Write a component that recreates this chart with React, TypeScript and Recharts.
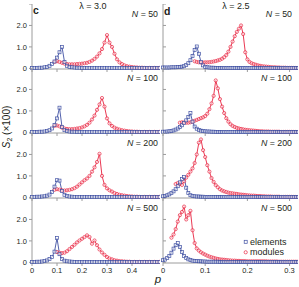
import React from 'react';
import { LineChart, Line, XAxis, YAxis } from 'recharts';

const FONT = '"Liberation Sans", Arial, Helvetica, sans-serif';
const BLUE = '#3f50a3';
const RED = '#e8233f';
const AXIS = '#9c9c9c';
const TEXT = '#231f20';

// p grids
const pLeft = [0, 0.01, 0.02, 0.03, 0.04, 0.05, 0.06, 0.07, 0.08, 0.09, 0.1, 0.11, 0.12, 0.13, 0.14, 0.15, 0.16, 0.17, 0.18, 0.19, 0.2, 0.21, 0.22, 0.23, 0.24, 0.25, 0.26, 0.27, 0.28, 0.29, 0.3, 0.31, 0.32, 0.33, 0.34, 0.35, 0.36, 0.37, 0.38, 0.39, 0.4, 0.41, 0.42, 0.43, 0.44, 0.45, 0.46, 0.47, 0.48, 0.49, 0.5, 0.51];
const pRight = [0, 0.005, 0.01, 0.015, 0.02, 0.025, 0.03, 0.035, 0.04, 0.045, 0.05, 0.055, 0.06, 0.065, 0.07, 0.075, 0.08, 0.085, 0.09, 0.095, 0.1, 0.105, 0.11, 0.115, 0.12, 0.125, 0.13, 0.135, 0.14, 0.145, 0.15, 0.155, 0.16, 0.165, 0.17, 0.175, 0.18, 0.185, 0.19, 0.195, 0.2, 0.205, 0.21, 0.215, 0.22, 0.225, 0.23, 0.235, 0.24, 0.245, 0.25, 0.255, 0.26, 0.265, 0.27, 0.275, 0.28, 0.285, 0.29, 0.295, 0.3, 0.305, 0.31, 0.315, 0.32];

const ticksLeftX = [0, 0.1, 0.2, 0.3, 0.4];
const ticksRightX = [0, 0.1, 0.2, 0.3];
const ticksY = [0, 1, 2, 3];
const rowLabels = ['N = 50', 'N = 100', 'N = 200', 'N = 500'];

// lambda = 3.0 (panel c)
const elemC50 = [0.02, 0.02, 0.02, 0.03, 0.03, 0.05, 0.07, 0.12, 0.2, 0.32, 0.5, 0.75, 1.0, 0.3, 0.12, 0.07, 0.05, 0.04, 0.03, 0.03, 0.02, 0.02, 0.02, 0.02, 0.02, 0.02, 0.02, 0.02, 0.02, 0.02, 0.02, 0.02, 0.02, 0.02, 0.02, 0.02, 0.02, 0.02, 0.02, 0.02, 0.02, 0.02, 0.02, 0.02, 0.02, 0.02, 0.02, 0.02, 0.02, 0.02, 0.02, 0.02];
const modC50 = [null, null, null, null, null, null, null, null, null, 0.3, 0.33, 0.3, 0.26, 0.22, 0.2, 0.19, 0.19, 0.19, 0.2, 0.21, 0.22, 0.24, 0.26, 0.3, 0.36, 0.44, 0.55, 0.7, 0.9, 1.2, 1.55, 1.2, 1.0, 0.68, 0.42, 0.28, 0.2, 0.14, 0.1, 0.08, 0.06, 0.05, 0.04, 0.03, 0.03, 0.02, 0.02, 0.02, 0.02, 0.02, 0.02, 0.02];
const elemC100 = [0.02, 0.02, 0.02, 0.03, 0.03, 0.04, 0.06, 0.1, 0.18, 0.35, 0.65, 1.15, 0.25, 0.1, 0.06, 0.04, 0.03, 0.03, 0.02, 0.02, 0.02, 0.02, 0.02, 0.02, 0.02, 0.02, 0.02, 0.02, 0.02, 0.02, 0.02, 0.02, 0.02, 0.02, 0.02, 0.02, 0.02, 0.02, 0.02, 0.02, 0.02, 0.02, 0.02, 0.02, 0.02, 0.02, 0.02, 0.02, 0.02, 0.02, 0.02, 0.02];
const modC100 = [null, null, null, null, null, null, null, null, null, 0.3, 0.32, 0.28, 0.22, 0.18, 0.16, 0.15, 0.15, 0.16, 0.18, 0.2, 0.23, 0.28, 0.35, 0.45, 0.6, 0.78, 1.05, 1.3, 1.6, 1.2, 0.65, 0.42, 0.3, 0.22, 0.17, 0.13, 0.1, 0.08, 0.06, 0.05, 0.04, 0.03, 0.03, 0.02, 0.02, 0.02, 0.02, 0.02, 0.02, 0.02, 0.02, 0.02];
const elemC200 = [0.02, 0.02, 0.03, 0.03, 0.04, 0.05, 0.08, 0.13, 0.25, 0.5, 0.8, 0.78, 0.3, 0.12, 0.06, 0.04, 0.03, 0.02, 0.02, 0.02, 0.02, 0.02, 0.02, 0.02, 0.02, 0.02, 0.02, 0.02, 0.02, 0.02, 0.02, 0.02, 0.02, 0.02, 0.02, 0.02, 0.02, 0.02, 0.02, 0.02, 0.02, 0.02, 0.02, 0.02, 0.02, 0.02, 0.02, 0.02, 0.02, 0.02, 0.02, 0.02];
const modC200 = [null, null, null, null, null, null, null, null, null, 0.35, 0.38, 0.36, 0.33, 0.32, 0.33, 0.35, 0.38, 0.43, 0.5, 0.6, 0.7, 0.8, 0.88, 1.0, 1.2, 1.4, 1.65, 2.03, 1.0, 0.58, 0.42, 0.33, 0.27, 0.2, 0.16, 0.12, 0.1, 0.08, 0.06, 0.05, 0.04, 0.03, 0.03, 0.02, 0.02, 0.02, 0.02, 0.02, 0.02, 0.02, 0.02, 0.02];
const elemC500 = [0.02, 0.02, 0.03, 0.03, 0.04, 0.06, 0.09, 0.15, 0.25, 0.5, 1.13, 0.38, 0.15, 0.08, 0.05, 0.04, 0.03, 0.02, 0.02, 0.02, 0.02, 0.02, 0.02, 0.02, 0.02, 0.02, 0.02, 0.02, 0.02, 0.02, 0.02, 0.02, 0.02, 0.02, 0.02, 0.02, 0.02, 0.02, 0.02, 0.02, 0.02, 0.02, 0.02, 0.02, 0.02, 0.02, 0.02, 0.02, 0.02, 0.02, 0.02, 0.02];
const modC500 = [null, null, null, null, null, null, null, null, null, null, 0.48, 0.45, 0.43, 0.45, 0.52, 0.62, 0.72, 0.82, 0.93, 1.02, 1.1, 1.18, 1.26, 1.18, 0.87, 1.02, 0.8, 0.6, 0.46, 0.35, 0.25, 0.18, 0.14, 0.1, 0.08, 0.06, 0.05, 0.04, 0.03, 0.03, 0.02, 0.02, 0.02, 0.02, 0.02, 0.02, 0.02, 0.02, 0.02, 0.02, 0.02, 0.02];

// lambda = 2.5 (panel d)
const elemD50 = [0.04, 0.04, 0.04, 0.04, 0.05, 0.05, 0.05, 0.06, 0.06, 0.08, 0.1, 0.15, 0.24, 0.38, 0.58, 0.85, 1.02, 0.68, 0.3, 0.14, 0.07, 0.05, 0.04, 0.03, 0.03, 0.02, 0.02, 0.02, 0.02, 0.02, 0.02, 0.02, 0.02, 0.02, 0.02, 0.02, 0.02, 0.02, 0.02, 0.02, 0.02, 0.02, 0.02, 0.02, 0.02, 0.02, 0.02, 0.02, 0.02, 0.02, 0.02, 0.02, 0.02, 0.02, 0.02, 0.02, 0.02, 0.02, 0.02, 0.02, 0.02, 0.02, 0.02, 0.02, 0.02];
const modD50 = [null, null, null, null, null, null, null, null, null, null, null, null, null, null, null, 0.33, 0.3, 0.28, 0.27, 0.27, 0.28, 0.28, 0.29, 0.3, 0.32, 0.34, 0.37, 0.4, 0.45, 0.52, 0.62, 0.78, 1.0, 1.25, 1.5, 1.7, 1.85, 2.0, 1.6, 0.75, 0.42, 0.3, 0.24, 0.2, 0.17, 0.14, 0.12, 0.1, 0.09, 0.08, 0.07, 0.06, 0.05, 0.05, 0.04, 0.04, 0.03, 0.03, 0.03, 0.02, 0.02, 0.02, 0.02, 0.02, 0.02];
const elemD100 = [0.03, 0.03, 0.04, 0.05, 0.07, 0.09, 0.13, 0.18, 0.25, 0.33, 0.43, 0.56, 0.72, 0.9, 0.5, 0.27, 0.17, 0.11, 0.08, 0.06, 0.05, 0.04, 0.04, 0.03, 0.03, 0.02, 0.02, 0.02, 0.02, 0.02, 0.02, 0.02, 0.02, 0.02, 0.02, 0.02, 0.02, 0.02, 0.02, 0.02, 0.02, 0.02, 0.02, 0.02, 0.02, 0.02, 0.02, 0.02, 0.02, 0.02, 0.02, 0.02, 0.02, 0.02, 0.02, 0.02, 0.02, 0.02, 0.02, 0.02, 0.02, 0.02, 0.02, 0.02, 0.02];
const modD100 = [null, null, null, null, null, null, null, null, 0.45, 0.47, 0.46, 0.45, 0.45, 0.47, 0.5, 0.54, 0.58, 0.62, 0.66, 0.7, 0.76, 0.87, 1.08, 1.35, 1.7, 2.42, 2.05, 1.55, 1.2, 0.9, 0.66, 0.5, 0.38, 0.3, 0.25, 0.21, 0.18, 0.16, 0.14, 0.12, 0.11, 0.1, 0.09, 0.08, 0.07, 0.06, 0.05, 0.05, 0.04, 0.04, 0.04, 0.03, 0.03, 0.03, 0.03, 0.03, 0.02, 0.02, 0.02, 0.02, 0.02, 0.02, 0.02, 0.02, 0.02];
const elemD200 = [0.05, 0.07, 0.1, 0.14, 0.2, 0.28, 0.38, 0.52, 0.7, 0.85, 0.95, 0.45, 0.2, 0.1, 0.06, 0.05, 0.04, 0.04, 0.03, 0.03, 0.02, 0.02, 0.02, 0.02, 0.02, 0.02, 0.02, 0.02, 0.02, 0.02, 0.02, 0.02, 0.02, 0.02, 0.02, 0.02, 0.02, 0.02, 0.02, 0.02, 0.02, 0.02, 0.02, 0.02, 0.02, 0.02, 0.02, 0.02, 0.02, 0.02, 0.02, 0.02, 0.02, 0.02, 0.02, 0.02, 0.02, 0.02, 0.02, 0.02, 0.02, 0.02, 0.02, 0.02, 0.02];
const modD200 = [null, null, null, null, null, null, 0.62, 0.67, 0.62, 0.58, 0.75, 0.92, 1.05, 1.2, 1.35, 1.6, 2.0, 2.55, 2.7, 2.2, 1.88, 1.5, 1.2, 0.9, 0.72, 0.57, 0.47, 0.38, 0.32, 0.28, 0.25, 0.22, 0.2, 0.19, 0.17, 0.16, 0.14, 0.13, 0.12, 0.11, 0.1, 0.09, 0.08, 0.08, 0.07, 0.06, 0.06, 0.05, 0.05, 0.04, 0.04, 0.04, 0.03, 0.03, 0.03, 0.03, 0.02, 0.02, 0.02, 0.02, 0.02, 0.02, 0.02, 0.02, 0.02];
const elemD500 = [0.1, 0.13, 0.2, 0.3, 0.45, 0.64, 0.8, 0.9, 0.72, 0.48, 0.3, 0.2, 0.14, 0.11, 0.08, 0.07, 0.06, 0.05, 0.05, 0.04, 0.04, 0.03, 0.03, 0.03, 0.03, 0.03, 0.03, 0.02, 0.02, 0.02, 0.02, 0.02, 0.02, 0.02, 0.02, 0.02, 0.02, 0.02, 0.02, 0.02, 0.02, 0.02, 0.02, 0.02, 0.02, 0.02, 0.02, 0.02, 0.02, 0.02, 0.02, 0.02, 0.02, 0.02, 0.02, 0.02, 0.02, 0.02, 0.02, 0.02, 0.02, 0.02, 0.02, 0.02, 0.02];
const modD500 = [null, null, null, null, 1.15, 1.3, 1.55, 1.9, 2.2, 2.35, 2.6, 2.0, 2.2, 2.4, 1.5, 0.9, 0.65, 0.55, 0.47, 0.41, 0.36, 0.31, 0.27, 0.24, 0.21, 0.18, 0.16, 0.14, 0.13, 0.12, 0.11, 0.1, 0.09, 0.08, 0.08, 0.07, 0.07, 0.06, 0.06, 0.06, 0.05, 0.05, 0.05, 0.05, 0.05, 0.05, 0.05, 0.05, 0.05, 0.05, 0.04, 0.04, 0.04, 0.04, 0.04, 0.03, 0.03, 0.03, 0.03, 0.03, 0.03, 0.03, 0.03, 0.03, 0.03];

const elemC = [elemC50, elemC100, elemC200, elemC500];
const modC = [modC50, modC100, modC200, modC500];
const elemD = [elemD50, elemD100, elemD200, elemD500];
const modD = [modD50, modD100, modD200, modD500];

const ROW_TOPS = [4, 68, 133, 198];
const PLOT_H = 65;

const SquareDot = (props: any) => {
  const { cx, cy, index } = props;
  if (cx == null || cy == null || isNaN(cy)) return <g key={`s${index}`} />;
  return (
    <rect key={`s${index}`} x={cx - 1.5} y={cy - 1.5} width={3} height={3}
      fill="#ffffff" fillOpacity={0.55} stroke={BLUE} strokeWidth={0.7} />
  );
};

const CircleDot = (props: any) => {
  const { cx, cy, index } = props;
  if (cx == null || cy == null || isNaN(cy)) return <g key={`c${index}`} />;
  return (
    <circle key={`c${index}`} cx={cx} cy={cy} r={1.6}
      fill="#ffffff" fillOpacity={0.5} stroke={RED} strokeWidth={0.7} />
  );
};

type PanelProps = {
  left: number; top: number; plotW: number; side: 'left' | 'right'; bottom: boolean;
  p: number[]; elem: (number | null)[]; mod: (number | null)[];
  domainX: [number, number]; ticksX: number[];
};

function Panel({ left, top, plotW, side, bottom, p, elem, mod, domainX, ticksX }: PanelProps) {
  const data = p.map((v, i) => ({ p: v, e: elem[i], m: mod[i] }));
  const xh = bottom ? 14 : 4;
  const yw = side === 'left' ? 32 : 0;
  const ml = side === 'left' ? 0 : 8;
  return (
    <div style={{ position: 'absolute', left: left - yw - ml, top }}>
      <LineChart width={ml + yw + plotW} height={PLOT_H + xh} data={data}
        margin={{ top: 0, right: 0, bottom: 0, left: ml }}>
        <XAxis dataKey="p" type="number" domain={domainX} ticks={ticksX} height={xh}
          axisLine={{ stroke: AXIS }} tickLine={{ stroke: AXIS }} tickSize={3}
          interval={0}
          tick={{ fontSize: 7.5, fill: TEXT, fontFamily: FONT }}
          tickFormatter={(v: number) => (bottom ? (v === 0 ? '0' : String(v)) : '')} />
        {side === 'left' ? (
          <YAxis type="number" domain={[-0.03, 3]} ticks={ticksY} width={32} interval={0}
            axisLine={{ stroke: AXIS }} tickLine={{ stroke: AXIS }} tickSize={3}
            tick={{ fontSize: 7.5, fill: TEXT, fontFamily: FONT }}
            tickFormatter={(v: number) => (v === 0 ? '0' : v === 3 ? '' : v.toFixed(1))} />
        ) : (
          <YAxis type="number" domain={[-0.03, 3]} ticks={ticksY} mirror interval={0}
            axisLine={{ stroke: AXIS }} tickLine={{ stroke: AXIS }} tickSize={3}
            tick={{ fontSize: 7.5, fill: TEXT, fontFamily: FONT }}
            tickFormatter={() => ''} />
        )}
        <Line type="linear" dataKey="m" stroke={RED} strokeWidth={0.9}
          dot={CircleDot} activeDot={false} isAnimationActive={false} connectNulls={false} />
        <Line type="linear" dataKey="e" stroke={BLUE} strokeWidth={0.9}
          dot={SquareDot} activeDot={false} isAnimationActive={false} />
      </LineChart>
    </div>
  );
}

export default function App() {
  return (
    <div style={{ position: 'absolute', left: 0, top: 0, width: 299, height: 287, background: '#fff', overflow: 'hidden', fontFamily: FONT }}>
      {ROW_TOPS.map((t, i) => (
        <Panel key={`c${i}`} left={32} top={t} plotW={128} side="left" bottom={i === 3}
          p={pLeft} elem={elemC[i]} mod={modC[i]} domainX={[0, 0.512]} ticksX={ticksLeftX} />
      ))}
      {ROW_TOPS.map((t, i) => (
        <Panel key={`d${i}`} left={163} top={t} plotW={135} side="right" bottom={i === 3}
          p={pRight} elem={elemD[i]} mod={modD[i]} domainX={[0, 0.32]} ticksX={ticksRightX} />
      ))}
      <svg width={299} height={287} style={{ position: 'absolute', left: 0, top: 0, pointerEvents: 'none' }}
        fontFamily={FONT} fill={TEXT}>
        <text x={33} y={14} fontSize={10.5} fontWeight="bold">c</text>
        <text x={164} y={15} fontSize={10.5} fontWeight="bold">d</text>
        <text x={93} y={8.5} fontSize={9} textAnchor="middle">λ = 3.0</text>
        <text x={236} y={8.5} fontSize={9} textAnchor="middle">λ = 2.5</text>
        {ROW_TOPS.map((t, i) => (
          <g key={`n${i}`}>
            <text x={158} y={t + 12.5} fontSize={8.8} textAnchor="end">
              <tspan fontStyle="italic">N</tspan>{rowLabels[i].slice(1)}
            </text>
            <text x={292} y={t + 12.5} fontSize={8.8} textAnchor="end">
              <tspan fontStyle="italic">N</tspan>{rowLabels[i].slice(1)}
            </text>
          </g>
        ))}
        <text transform="translate(9.5,127) rotate(-90)" fontSize={10} textAnchor="middle">
          <tspan fontStyle="italic">S</tspan>
          <tspan fontSize={7} dy={2}>2</tspan>
          <tspan dy={-2}> (×100)</tspan>
        </text>
        <text x={158} y={283} fontSize={11.5} fontStyle="italic" textAnchor="middle">p</text>
        <rect x={244.2} y={240.3} width={3} height={3} fill="#ffffff" fillOpacity={0.55} stroke={BLUE} strokeWidth={0.7} />
        <text x={250} y={245} fontSize={9}>elements</text>
        <circle cx={245.7} cy={252.3} r={1.6} fill="#ffffff" fillOpacity={0.5} stroke={RED} strokeWidth={0.7} />
        <text x={250} y={255} fontSize={9}>modules</text>
      </svg>
    </div>
  );
}
